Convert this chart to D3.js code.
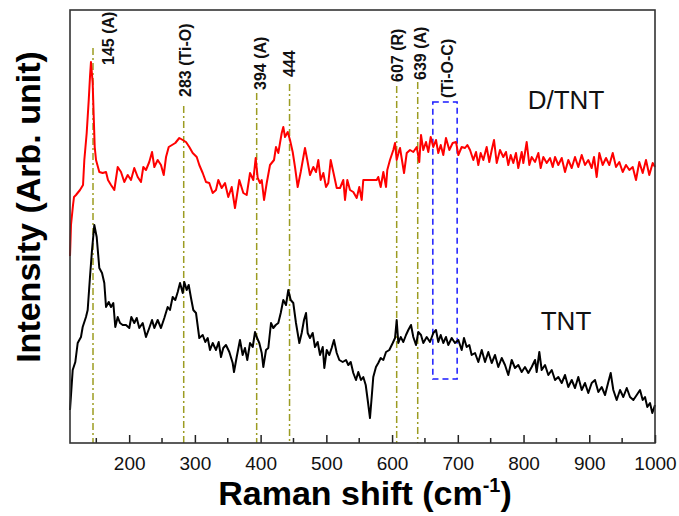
<!DOCTYPE html>
<html>
<head>
<meta charset="utf-8">
<script src="https://cdn.jsdelivr.net/npm/d3@7/dist/d3.min.js"></script>
<style>
  html, body { margin: 0; padding: 0; background: #fff; }
  svg { display: block; font-family: "Liberation Sans", Arial, sans-serif; }
</style>
</head>
<body>
<svg id="chart" width="679" height="516"></svg>
<script>
// ---------- data (Raman shift in cm^-1, intensity in arbitrary units) ----------
const dtntShift = [110,111.5,114.6,116.1,119.1,125.2,129.8,131.8,135.4,138.5,140.4,141.9,144.5,146.1,147.6,149.6,154.6,159.7,164.8,167.8,172.4,177.4,182.6,187.6,192.6,197.8,202.8,207.8,213,218,221.5,225.6,230.6,234.8,238.3,243.4,248.4,252.6,256.1,260.2,265.2,270.2,276.3,281.5,286.5,291.5,296.7,302.8,306.7,311.9,316.9,321.9,327.1,332.1,335.6,340.8,345.8,350.8,356,361,367.6,373.7,378.8,383.9,388.9,392.5,395.6,399.1,401.7,405.2,409.3,414.3,420.4,423.4,426.9,429.5,432.1,434.5,437.1,441.2,444.7,448.8,452.3,456.4,461,467.5,471,475.1,480.2,484.3,487.8,491.4,495.4,499.5,503,506.6,510.6,515.8,520.8,525.8,528.4,531.9,536,541,546.2,550.1,553.8,556.2,576.6,579,582.7,586.7,590.8,592.7,596.8,601.9,604.5,607,611,612.1,618.2,622.3,627.3,632.3,637.5,641.4,644,647.5,651.6,655.1,658.8,662.7,666.8,670.3,674,677.9,682,687.1,692.2,697.3,700.8,705.9,711,714.5,718.6,723.6,727.7,731.2,734.8,738.8,743.9,747.9,751.6,755.1,759.2,764.2,769.2,773.3,776.8,780.5,784.4,788.5,792,797.2,799.7,804.8,808.8,812.4,817.5,822.5,826.1,830.1,835.3,840.3,844.4,847.9,852.9,858.1,863.1,868.1,873.3,878.3,883.3,888.5,893.5,898.5,903.7,907.2,911.3,915.3,920.4,925.5,930.5,935.7,940.7,945.7,950.9,955.9,961,966.1,971.1,976.1,981.3,986.3,991.3,996.5,1000];
const dtntInt = [187,218,238,246,248,253,258,283,310,343,366,381,360,326,296,283,271,270,271,263,258,253,276,271,261,268,263,275,266,261,276,273,281,291,276,283,278,268,286,296,298,300,305,303,301,296,290,286,278,270,261,260,250,253,263,255,260,246,256,235,263,250,248,270,263,285,265,260,263,243,260,278,283,296,290,300,310,316,306,311,303,291,276,256,271,295,283,268,276,271,283,263,270,256,260,283,271,255,255,263,243,263,253,251,245,256,243,263,263,266,256,271,256,273,283,293,300,283,293,295,270,290,293,291,296,281,308,293,301,291,306,296,303,290,298,288,305,293,300,301,288,296,295,298,293,283,291,278,290,283,296,281,293,303,280,293,286,291,278,288,280,290,275,291,280,301,278,286,281,290,275,286,280,285,276,286,278,285,271,283,275,286,276,288,278,283,275,286,266,290,278,285,278,290,276,281,271,278,273,276,263,281,270,283,268,280,276];

const tntShift = [110,114.1,118.1,121.7,126.7,129.3,134.3,136.9,140.4,143.5,147,150.6,154.6,158.7,162.2,164.8,168.9,172.4,175.9,178.9,182.6,186.1,190.2,195.2,200.2,203.3,207.8,211.5,215.4,220.6,225.6,230.6,234.8,238.3,243.4,248.4,253.5,258.6,262.1,266.2,270.2,273.9,277.4,281.5,283.9,287.5,290.6,294.1,297.6,301.7,306.7,311.9,315.8,319.5,323,327.1,332.1,336.2,339.7,343.2,347.3,352.4,357.5,359.5,363.6,368.6,372.7,376.2,379.7,383.9,388,391.5,394,398,401.7,404.1,408.2,411.7,415.8,419.3,423,426.9,430.6,434.5,438.6,442.1,445.8,449.7,453.8,458.9,462.5,466,469.1,471.6,475.1,479.2,482.7,486.8,490.4,494.5,496.9,500.6,504.5,508.1,511.6,515.8,519.7,524.9,529.9,533.4,537.1,541,545.1,548.6,552.7,556.2,559.9,562.9,566.4,569,571.4,575.5,579,582.7,586.7,590.8,595.8,601,604.5,607,609.5,613.1,617.1,621.2,624.7,628.8,632.3,636.4,639.9,644,647.5,652.7,657.7,662.7,666.8,670.3,674,677.9,682,685.5,690.7,695.7,700.8,705.9,709.4,713.5,717.5,721.1,726.2,731.2,736.4,741.4,746.4,751.6,756.6,761.6,766.8,771.8,776.8,782,787,792,797.2,802.2,807.3,812.4,817.5,820,824,827.6,832.7,837.7,842.9,847.9,852.9,858.1,863.1,868.1,873.3,878.3,883.3,888.5,893.5,898.5,903.7,908.7,913.8,918.9,924,929,932.6,936.6,941.7,946.8,951.8,957,962,967.1,972.2,977.2,981.3,984.8,988.3,992.4,995.9,1000];
const tntInt = [33,73,81,100,106,116,126,133,166,193,218,206,175,170,160,136,141,136,140,116,126,120,118,118,115,126,120,125,115,120,106,115,123,115,123,115,125,136,133,146,143,151,160,150,161,153,158,145,133,130,105,108,101,105,93,100,93,101,86,95,98,91,80,71,86,103,88,95,83,100,96,111,106,100,90,76,93,95,120,115,118,120,130,143,138,153,143,140,120,100,110,123,130,110,105,110,96,101,88,96,75,93,88,95,103,90,83,81,83,78,81,70,63,71,63,66,58,43,25,46,66,76,80,85,83,91,93,100,105,123,100,106,101,108,113,118,106,98,111,108,100,106,101,110,113,101,108,100,106,98,105,100,103,93,105,96,98,88,90,81,93,81,91,80,88,76,85,78,68,83,75,78,71,76,70,76,83,71,91,73,78,68,73,63,66,60,68,56,63,55,66,53,60,50,60,63,51,56,48,61,70,53,43,53,46,55,46,43,48,53,43,46,36,40,30,38];

const xTickValues = [200, 300, 400, 500, 600, 700, 800, 900, 1000];
const xMinorTicks = [150, 250, 350, 450, 550, 650, 750, 850, 950];

const peakShift  = [145, 283, 394, 444, 607, 639];
const peakLabels = ["145 (A)", "283 (Ti-O)", "394 (A)", "444", "607 (R)", "639 (A)"];
const peakLineTop = [395, 337, 350, 359, 357, 361];   // intensity where each marker line starts
const peakLabelBase = [378, 346, 353, 366, 361, 363]; // intensity where each label starts

const boxShift = [662, 699];
const boxInt = [64, 341];
const boxLabel = "(Ti-O-C)";

const seriesNames = ["D/TNT", "TNT"];

// ---------- layout ----------
const svg = d3.select("#chart");
const L = 70, R = 655, T = 10, B = 443;
const x = d3.scaleLinear().domain([110, 1000]).range([L, R]);
const y = d3.scaleLinear().domain([0, 433]).range([B, T]);

const olive = "#9c9c22";

// marker lines
svg.append("g").selectAll("line").data(peakShift).join("line")
  .attr("x1", d => x(d)).attr("x2", d => x(d))
  .attr("y1", (d, i) => y(peakLineTop[i])).attr("y2", B)
  .attr("stroke", olive).attr("stroke-width", 1.5)
  .attr("stroke-dasharray", "7,3,2,3");

// dashed box
svg.append("rect")
  .attr("x", x(boxShift[0])).attr("y", y(boxInt[1]))
  .attr("width", x(boxShift[1]) - x(boxShift[0]))
  .attr("height", y(boxInt[0]) - y(boxInt[1]))
  .attr("fill", "none").attr("stroke", "#1a1aff").attr("stroke-width", 1.5)
  .attr("stroke-dasharray", "6,4");

// curves
const line = d3.line().x(d => x(d[0])).y(d => y(d[1]));
const dtnt = dtntShift.map((s, i) => [s, dtntInt[i]]);
const tnt = tntShift.map((s, i) => [s, tntInt[i]]);
svg.append("path").datum(tnt).attr("d", line)
  .attr("fill", "none").attr("stroke", "#000").attr("stroke-width", 2).attr("stroke-linejoin", "round");
svg.append("path").datum(dtnt).attr("d", line)
  .attr("fill", "none").attr("stroke", "#ff0000").attr("stroke-width", 2).attr("stroke-linejoin", "round");

// peak labels
const labelDx = [21, 7, 9, 5, 6, 8];
svg.append("g").selectAll("text").data(peakLabels).join("text")
  .attr("transform", (d, i) => `translate(${x(peakShift[i]) + labelDx[i]},${y(peakLabelBase[i])}) rotate(-90)`)
  .attr("font-size", 16).attr("font-weight", "bold").attr("fill", "#111")
  .text(d => d);
svg.append("text")
  .attr("transform", `translate(${(x(boxShift[0]) + x(boxShift[1])) / 2 + 8},${y(boxInt[1]) - 4}) rotate(-90)`)
  .attr("font-size", 16).attr("font-weight", "bold").attr("fill", "#111")
  .text(boxLabel);

// series labels
svg.append("text").attr("x", 566).attr("y", 109).attr("text-anchor", "middle")
  .attr("font-size", 26).attr("fill", "#111").text(seriesNames[0]);
svg.append("text").attr("x", 566).attr("y", 330).attr("text-anchor", "middle")
  .attr("font-size", 26).attr("fill", "#111").text(seriesNames[1]);

// axis ticks (inward)
const xAxis = d3.axisBottom(x).tickValues(xTickValues).tickFormat(d3.format("d"))
  .tickSizeInner(-8).tickSizeOuter(0).tickPadding(14);
const gx = svg.append("g").attr("transform", `translate(0,${B})`).call(xAxis);
gx.select(".domain").remove();
gx.selectAll(".tick line").attr("stroke", "#222").attr("stroke-width", 1.5);
gx.selectAll(".tick text").attr("font-size", 19).attr("fill", "#111")
  .attr("font-family", "'Liberation Sans', Arial, sans-serif");
svg.append("g").selectAll("line").data(xMinorTicks).join("line")
  .attr("x1", d => x(d)).attr("x2", d => x(d))
  .attr("y1", B).attr("y2", B - 5)
  .attr("stroke", "#222").attr("stroke-width", 1.5);

// frame
svg.append("rect").attr("x", L).attr("y", T).attr("width", R - L).attr("height", B - T)
  .attr("fill", "none").attr("stroke", "#333").attr("stroke-width", 1.6);

// axis titles
const xt = svg.append("text").attr("x", 365).attr("y", 505).attr("text-anchor", "middle")
  .attr("font-size", 34).attr("font-weight", "bold").attr("fill", "#000");
xt.append("tspan").text("Raman shift (cm");
xt.append("tspan").attr("dy", -13).attr("font-size", 20).text("-1");
xt.append("tspan").attr("dy", 13).text(")");

svg.append("text")
  .attr("transform", "translate(40,207) rotate(-90)")
  .attr("text-anchor", "middle").attr("font-size", 34).attr("font-weight", "bold").attr("fill", "#000")
  .text("Intensity (Arb. unit)");
</script>
</body>
</html>
